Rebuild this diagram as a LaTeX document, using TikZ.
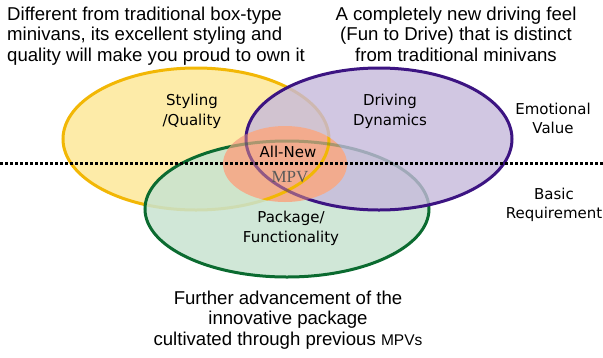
\documentclass[tikz,border=0pt]{standalone}
\usepackage{fontspec}
\setmainfont{Liberation Sans}
\newfontfamily\gothic{DejaVu Sans}
\newfontfamily\mincho{Liberation Serif}

\definecolor{stylefill}{HTML}{FDEBA8}
\definecolor{styleline}{HTML}{F2B705}
\definecolor{drivefill}{HTML}{C6B9DB}
\definecolor{driveline}{HTML}{3C1482}
\definecolor{packfill}{HTML}{C8E3D0}
\definecolor{packline}{HTML}{0B6B30}
\definecolor{newfill}{HTML}{F6AA88}

\tikzset{
  area/.style={line width=3pt},
  area label/.style={font=\gothic\fontsize{15}{19.5}\selectfont, align=center, inner sep=0pt, anchor=base},
  note/.style={font=\fontsize{18.6}{20.3}\selectfont, inner sep=0pt, anchor=base},
  level/.style={font=\gothic\fontsize{15}{19}\selectfont, align=center, inner sep=0pt, anchor=base}
}

\begin{document}
\begin{tikzpicture}[x=1pt,y=-1pt]
  \useasboundingbox (0,0) rectangle (603,357);
  % the three areas
  \filldraw[area, draw=styleline, fill=stylefill] (196,139) ellipse [x radius=133pt, y radius=71pt];
  \filldraw[area, draw=packline, fill=packfill, fill opacity=.85] (287,209) ellipse [x radius=142pt, y radius=68pt];
  \filldraw[area, draw=driveline, fill=drivefill, fill opacity=.8] (379,139) ellipse [x radius=133pt, y radius=71pt];
  % new model in the middle
  \fill[newfill, fill opacity=.92] (285,164) ellipse [x radius=62pt, y radius=38pt];
  \begin{scope}
    \clip (285,164) ellipse [x radius=62pt, y radius=38pt];
    \draw[area, styleline] (196,139) ellipse [x radius=133pt, y radius=71pt];
    \draw[area, driveline, opacity=.5] (379,139) ellipse [x radius=133pt, y radius=71pt];
    \draw[area, packline, opacity=.3] (287,209) ellipse [x radius=142pt, y radius=68pt];
  \end{scope}
  % border between the two levels
  \draw[line width=3pt, dash pattern=on 3pt off 2pt] (0,163.5) -- (603,163.5);

  % last line sits on the given baseline
  \node[area label] (styling) at (192,125) {Styling\\/Quality};
  \node[area label] (driving) at (390,125) {Driving\\Dynamics};
  \node[area label] (package) at (291,242) {Package/\\Functionality};
  \node[area label] (allnew) at (288,157) {All-New};
  \node[inner sep=0pt, anchor=base, font=\mincho\fontsize{17}{17}\selectfont, text=black!65] (mpv) at (290,182) {MPV};

  \node[note, align=left, anchor=base west] (styletext) at (7,61) {Different from traditional box-type\\minivans, its excellent styling and\\quality will make you proud to own it};
  \node[note, align=center] (drivetext) at (456,61) {A completely new driving feel\\(Fun to Drive) that is distinct\\from traditional minivans};
  \node[note, align=center] (packtext) at (288,345) {Further advancement of the\\innovative package\\cultivated through previous {\fontsize{15.5}{15.5}\selectfont MPVs}};

  \node[level] (emotional) at (553,133) {Emotional\\Value};
  \node[level] (basic) at (554,218) {Basic\\Requirement};
\end{tikzpicture}
\end{document}
